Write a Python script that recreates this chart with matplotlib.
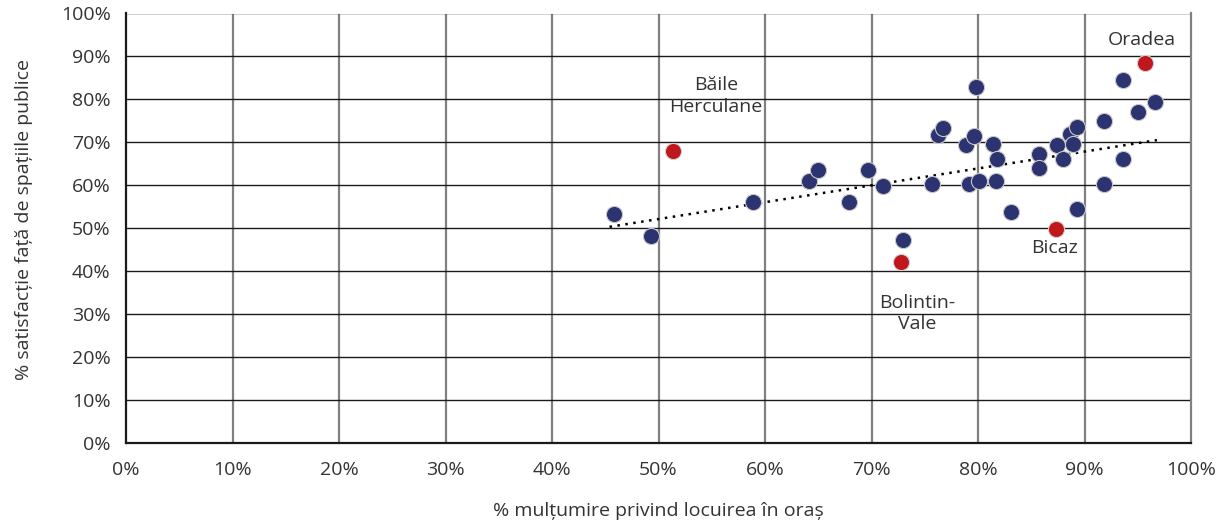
import numpy as np
import matplotlib
matplotlib.use("Agg")
import matplotlib.pyplot as plt
from matplotlib.ticker import PercentFormatter

plt.rcParams['font.family'] = ['Open Sans', 'DejaVu Sans']

# % multumire privind locuirea in oras (x) / % satisfactie spatii publice (y)
x_oras = [45.8, 49.3, 58.9, 64.1, 65.0, 67.9, 69.7, 71.1, 73.0, 75.7,
          76.2, 76.7, 78.9, 79.6, 79.8, 79.2, 80.1, 81.4, 81.8, 81.7,
          83.1, 85.7, 85.7, 87.4, 88.0, 88.6, 88.9, 89.3, 89.3, 91.8,
          91.8, 93.6, 93.6, 95.0, 96.6]
y_oras = [53.3, 48.1, 56.0, 60.9, 63.5, 56.0, 63.5, 59.9, 47.2, 60.2,
          71.7, 73.4, 69.3, 71.4, 82.9, 60.2, 61.0, 69.6, 66.2, 61.0,
          53.8, 67.2, 64.1, 69.3, 66.0, 71.9, 69.7, 73.6, 54.4, 75.0,
          60.2, 84.5, 66.2, 77.1, 79.4]

# orase evidentiate
nume_ev = ["Băile\nHerculane", "Bolintin-\nVale", "Bicaz", "Oradea"]
x_ev = [51.4, 72.8, 87.3, 95.7]
y_ev = [67.9, 42.2, 49.9, 88.4]

# linia de trend, capete
trend_x = [45.4, 96.8]
trend_y = [50.3, 70.5]

fig = plt.figure(figsize=(12.18, 5.27), dpi=100)
ax = fig.add_axes([126/1218, 1-442.7/527, (1191-126)/1218, (442.7-13.5)/527])

ax.set_xlim(0, 100)
ax.set_ylim(0, 100)
ax.set_xticks(np.arange(0, 101, 10))
ax.set_yticks(np.arange(0, 101, 10))
ax.xaxis.set_major_formatter(PercentFormatter(decimals=0))
ax.yaxis.set_major_formatter(PercentFormatter(decimals=0))
for xv in range(10, 100, 10):
    ax.axvline(xv, color='#808080', lw=1.6, zorder=1)
for yv in range(10, 101, 10):
    ax.axhline(yv, color='#1a1a1a', lw=1.0, zorder=1)
for s in ['left', 'bottom']:
    ax.spines[s].set_color('#1a1a1a')
    ax.spines[s].set_linewidth(1.6)
ax.spines['right'].set_color('#808080')
ax.spines['right'].set_linewidth(1.6)
ax.spines['top'].set_visible(False)
ax.tick_params(length=0, labelsize=14, labelcolor='#333333')
ax.tick_params(axis='x', pad=13)
ax.tick_params(axis='y', pad=11)

ax.plot(trend_x, trend_y, ls=(0, (1, 2.2)), color='black', lw=1.8, zorder=2)

ax.scatter(x_oras, y_oras, s=135, color='#2b3470', edgecolor='#c8c8c8', linewidth=0.8, zorder=3)
ax.scatter(x_ev, y_ev, s=135, color='#c0171c', edgecolor='#d0d0d0', linewidth=0.8, zorder=3)

pozitii = [(55.4, 80.8), (74.3, 30.1), (87.2, 45.3), (95.4, 93.8)]
for n, (tx, ty) in zip(nume_ev, pozitii):
    ax.text(tx, ty, n, ha='center', va='center', fontsize=14, color='#333333', linespacing=1.25)

ax.set_xlabel("% mulțumire privind locuirea în oraș", fontsize=14, color='#333333')
ax.set_ylabel("% satisfacție față de spațiile publice", fontsize=14, color='#333333')
ax.xaxis.set_label_coords(0.5, -0.138)
ax.yaxis.set_label_coords(-0.087, 0.519)

fig.savefig("out.png", dpi=100)
